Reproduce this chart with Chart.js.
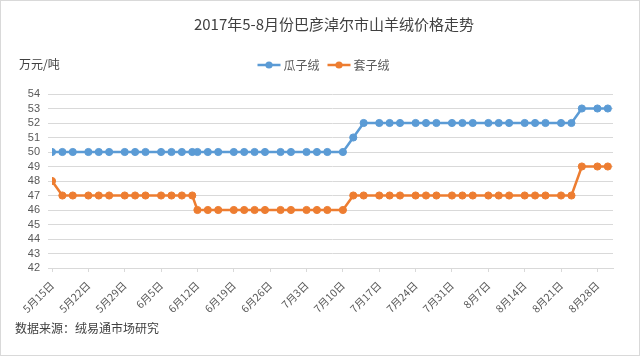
<!DOCTYPE html>
<html><head><meta charset="utf-8">
<script src="https://cdn.jsdelivr.net/npm/chart.js@4/dist/chart.umd.min.js"></script>
<style>
html,body{margin:0;padding:0;background:#fff;}
#c{display:block;}
</style></head><body>
<canvas id="c" width="640" height="356" style="width:640px;height:356px"></canvas>
<script>
// ---- data ----
const chartTitle = "2017年5-8月份巴彦淖尔市山羊绒价格走势";
const unitLabel = "万元/吨";
const sourceNote = "数据来源：绒易通市场研究";
const seriesNames = ["瓜子绒", "套子绒"];
const dates = ["5/15","5/17","5/19","5/22","5/24","5/26","5/29","5/31","6/2","6/5","6/7","6/9","6/11","6/12","6/14","6/16","6/19","6/21","6/23","6/25","6/28","6/30","7/3","7/5","7/7","7/10","7/12","7/14","7/17","7/19","7/21","7/24","7/26","7/28","7/31","8/2","8/4","8/7","8/9","8/11","8/14","8/16","8/18","8/21","8/23","8/25","8/28","8/30"];
const guaziRong = [50,50,50,50,50,50,50,50,50,50,50,50,50,50,50,50,50,50,50,50,50,50,50,50,50,50,51,52,52,52,52,52,52,52,52,52,52,52,52,52,52,52,52,52,52,53,53,53];
const taoziRong = [48,47,47,47,47,47,47,47,47,47,47,47,47,46,46,46,46,46,46,46,46,46,46,46,46,46,47,47,47,47,47,47,47,47,47,47,47,47,47,47,47,47,47,47,47,49,49,49];
const xStartDate = "5/15";
const xEndDate = "8/31";
const xTickStepDays = 7;
const yMin = 42, yMax = 54, yStep = 1;

// ---- helpers ----
const YEAR = 2017;
function toDay(s){ const [m,d]=s.split("/").map(Number); return Date.UTC(YEAR,m-1,d)/86400000; }
const day0 = toDay(xStartDate);
function dayOffset(s){ return toDay(s)-day0; }
function fmtDay(v){ const dt=new Date((day0+v)*86400000); return (dt.getUTCMonth()+1)+"月"+dt.getUTCDate()+"日"; }

const colors = ["#5B9BD5", "#ED7D31"];
const seriesData = [guaziRong, taoziRong];
const CJK = '"Noto Sans CJK SC", sans-serif';

const datasets = seriesNames.map((name,i)=>({
  label: name,
  data: dates.map((d,j)=>({x: dayOffset(d), y: seriesData[i][j]})),
  borderColor: colors[i],
  backgroundColor: colors[i],
  borderWidth: 2.5,
  pointRadius: 3.6,
  pointBorderWidth: 1,
  pointBorderColor: colors[i],
  pointBackgroundColor: colors[i],
  tension: 0
}));

const decor = {
  id: 'decor',
  afterDraw(chart){
    const ctx = chart.ctx;
    ctx.save();
    ctx.strokeStyle = '#d9d9d9'; ctx.lineWidth = 1;
    ctx.strokeRect(0.5,0.5,639,355);
    ctx.fillStyle = '#404040';
    ctx.font = '15px ' + CJK;
    ctx.textAlign = 'center'; ctx.textBaseline = 'middle';
    ctx.fillText(chartTitle, 334, 24.5);
    ctx.fillStyle = '#404040';
    ctx.font = '12px ' + CJK;
    ctx.textAlign = 'left';
    ctx.fillText(unitLabel, 19, 64);
    ctx.fillText(sourceNote, 15, 328);
    ctx.font = '12px ' + CJK;
    const lineW = 23, gapT = 3, gapI = 8;
    const widths = seriesNames.map(n=>lineW+gapT+ctx.measureText(n).width);
    const total = widths.reduce((a,b)=>a+b,0)+gapI*(seriesNames.length-1);
    let x = 323.5 - total/2;
    const y = 65;
    seriesNames.forEach((n,i)=>{
      ctx.strokeStyle = colors[i]; ctx.lineWidth = 2.5;
      ctx.beginPath(); ctx.moveTo(x,y); ctx.lineTo(x+lineW,y); ctx.stroke();
      ctx.fillStyle = colors[i];
      ctx.beginPath(); ctx.arc(x+lineW/2,y,3.6,0,Math.PI*2); ctx.fill();
      ctx.fillStyle = '#595959';
      ctx.fillText(n, x+lineW+gapT, y);
      x += widths[i]+gapI;
    });
    ctx.restore();
  }
};

new Chart(document.getElementById('c'), {
  type: 'line',
  data: { datasets },
  options: {
    responsive: false,
    animation: false,
    layout: { padding: { left: 0, right: 27, top: 94, bottom: 0 } },
    plugins: { legend: { display: false }, title: { display: false }, tooltip: { enabled: false } },
    scales: {
      x: {
        type: 'linear',
        min: 0,
        max: dayOffset(xEndDate),
        ticks: {
          stepSize: xTickStepDays,
          includeBounds: false,
          autoSkip: false,
          minRotation: 45, maxRotation: 45,
          padding: 7,
          color: '#595959',
          font: { family: CJK, size: 10.5 },
          callback: (v)=>fmtDay(v)
        },
        grid: { drawOnChartArea: false, drawTicks: true, tickLength: 4, color: '#d9d9d9' },
        border: { display: true, color: '#d9d9d9' },
        afterFit(s){ s.height = 88; }
      },
      y: {
        min: yMin, max: yMax,
        ticks: { stepSize: yStep, autoSkip: false, color: '#595959', font: { family: 'Liberation Sans', size: 11 }, padding: 8 },
        grid: { color: '#d9d9d9', drawTicks: true, tickLength: 4 },
        border: { display: false },
        afterFit(s){ s.width = 52; }
      }
    }
  },
  plugins: [decor]
});
</script>
</body></html>
